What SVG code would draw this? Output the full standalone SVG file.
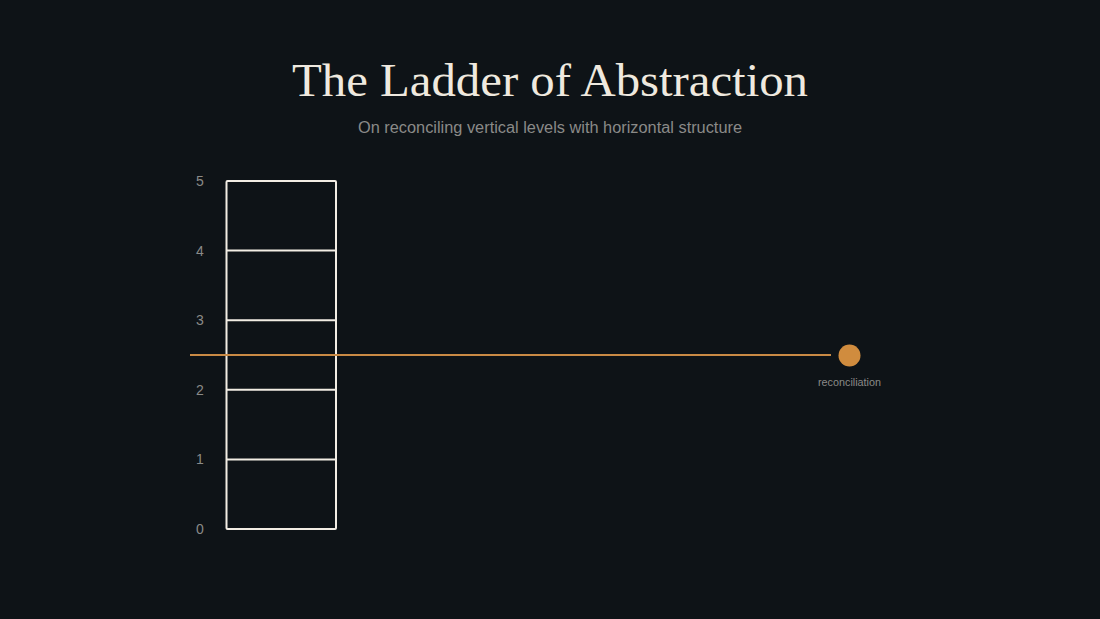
<svg xmlns="http://www.w3.org/2000/svg" width="1100" height="619" viewBox="0 0 1100 619">
<style>
.lvl{font-family:"Liberation Sans","DejaVu Sans",sans-serif;font-size:14px;fill:#8a8a88;text-anchor:middle;dominant-baseline:central}
.rung{stroke:#f2ede4;stroke-width:2;fill:none}
</style>
<rect width="1100" height="619" fill="#0e1317"/>
<g id="title">
<text x="550" y="96" font-family="'Liberation Serif','DejaVu Serif',serif" font-size="46" fill="#efe9df" text-anchor="middle" textLength="516" lengthAdjust="spacingAndGlyphs">The Ladder of Abstraction</text>
</g>
<g id="subtitle">
<text x="550" y="133" font-family="'Liberation Sans','DejaVu Sans',sans-serif" font-size="16" fill="#8a8a88" text-anchor="middle" textLength="384" lengthAdjust="spacingAndGlyphs">On reconciling vertical levels with horizontal structure</text>
</g>
<g id="levels">
<text class="lvl" x="200" y="181">5</text>
<text class="lvl" x="200" y="250.6">4</text>
<text class="lvl" x="200" y="320.2">3</text>
<text class="lvl" x="200" y="389.8">2</text>
<text class="lvl" x="200" y="459.4">1</text>
<text class="lvl" x="200" y="529">0</text>
</g>
<g id="ladder">
<rect class="rung" x="226.5" y="181" width="109.5" height="348" rx="1"/>
<line class="rung" x1="226.5" y1="250.6" x2="336" y2="250.6"/>
<line class="rung" x1="226.5" y1="320.2" x2="336" y2="320.2"/>
<line class="rung" x1="226.5" y1="389.8" x2="336" y2="389.8"/>
<line class="rung" x1="226.5" y1="459.4" x2="336" y2="459.4"/>
</g>
<g id="connectors">
<line x1="190" y1="355" x2="831" y2="355" stroke="#c98a45" stroke-width="2"/>
</g>
<g id="reconciliation">
<circle cx="849.5" cy="355.5" r="11" fill="#d08c3e"/>
<text x="849.5" y="386" font-family="'Liberation Sans','DejaVu Sans',sans-serif" font-size="10" fill="#8a8a88" text-anchor="middle" textLength="63" lengthAdjust="spacingAndGlyphs">reconciliation</text>
</g>
</svg>
